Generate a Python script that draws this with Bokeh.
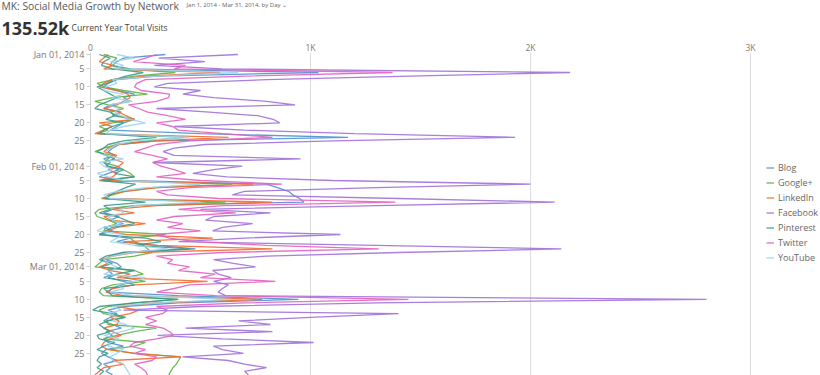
import pandas as pd
from bokeh.plotting import figure
from bokeh.layouts import column
from bokeh.models import Range1d, FixedTicker, Legend, LegendItem, Label
from bokeh.embed import file_html
from bokeh.resources import INLINE

# ---------------- data ----------------
dates = pd.date_range("2014-01-01", "2014-03-31", freq="D")

networks = ["Blog", "Google+", "LinkedIn", "Facebook", "Pinterest", "Twitter", "YouTube"]

blog = [340, 150, 120, 100, 180, 1036, 300, 120, 80, 60,
        120, 200, 150, 180, 90, 60, 140, 100, 200, 150,
        120, 90, 500, 1170, 300, 130, 100, 80, 110, 60,
        90, 70, 130, 80, 40, 150, 800, 850, 900, 920,
        950, 970, 200, 100, 60, 130, 90, 150, 60, 100,
        40, 180, 120, 300, 477, 150, 90, 70, 120, 140,
        80, 100, 60, 190, 140, 100, 80, 400, 945, 400,
        150, 80, 120, 90, 60, 100, 140, 70, 100, 60,
        80, 150, 70, 50, 80, 120, 60, 90, 70, 100]

google_plus = [60, 120, 100, 90, 150, 386, 200, 100, 30, 60,
               150, 259, 100, 20, 80, 150, 90, 120, 200, 100,
               40, 80, 30, 430, 250, 120, 60, 20, 100, 80,
               60, 120, 150, 180, 200, 60, 645, 300, 160, 100,
               50, 614, 200, 40, 20, 30, 80, 120, 70, 60,
               341, 180, 200, 240, 260, 280, 200, 60, 40, 20,
               200, 240, 150, 250, 100, 50, 40, 60, 395, 200,
               80, 40, 60, 150, 70, 80, 300, 200, 120, 60,
               250, 200, 90, 200, 410, 400, 390, 375, 365, 355]

linkedin = [80, 60, 40, 100, 60, 590, 250, 100, 60, 40,
            120, 170, 180, 150, 120, 60, 130, 160, 200, 40,
            100, 60, 20, 627, 300, 120, 80, 60, 120, 100,
            150, 130, 80, 120, 100, 40, 740, 300, 150, 80,
            60, 827, 300, 100, 200, 60, 90, 250, 120, 80,
            160, 555, 150, 300, 827, 200, 100, 50, 80, 40,
            90, 180, 120, 532, 200, 100, 70, 150, 780, 300,
            120, 220, 180, 90, 130, 120, 60, 100, 140, 90,
            60, 50, 80, 200, 410, 100, 150, 60, 40, 20]

facebook = [670, 310, 520, 290, 600, 2180, 1450, 800, 350, 290,
            500, 420, 560, 800, 930, 300, 540, 760, 830, 860,
            380, 700, 1200, 1930, 1100, 520, 380, 330, 380, 955,
            287, 690, 560, 465, 620, 1100, 2000, 1300, 700, 645,
            1400, 2110, 1300, 500, 818, 560, 523, 737, 600, 555,
            1136, 700, 400, 1300, 2140, 1400, 800, 560, 650, 750,
            555, 582, 640, 560, 627, 600, 580, 614, 2800, 1300,
            500, 150, 1400, 1000, 673, 818, 432, 827, 305, 600,
            1014, 559, 600, 695, 418, 627, 700, 800, 700, 718]

pinterest = [40, 90, 60, 50, 100, 240, 160, 110, 77, 30,
             60, 90, 120, 80, 40, 20, 90, 110, 70, 150,
             100, 60, 40, 300, 150, 80, 60, 30, 70, 110,
             60, 80, 150, 110, 200, 50, 205, 160, 120, 90,
             68, 250, 60, 90, 40, 120, 160, 200, 100, 70,
             40, 250, 320, 200, 450, 150, 70, 40, 100, 50,
             200, 120, 80, 150, 200, 60, 80, 100, 400, 200,
             40, 10, 100, 160, 80, 40, 60, 90, 30, 40,
             110, 60, 30, 80, 40, 30, 50, 30, 60, 40]

twitter = [300, 250, 195, 432, 380, 1373, 700, 250, 210, 200,
           230, 360, 355, 300, 173, 220, 260, 350, 432, 300,
           373, 400, 600, 827, 450, 300, 250, 200, 280, 350,
           282, 320, 380, 432, 300, 500, 870, 450, 300, 350,
           582, 1386, 600, 400, 660, 380, 300, 420, 350, 500,
           300, 360, 477, 800, 1310, 600, 300, 373, 350, 450,
           400, 568, 500, 840, 450, 380, 300, 568, 1445, 700,
           300, 350, 327, 250, 300, 250, 330, 360, 377, 300,
           200, 180, 250, 200, 300, 280, 200, 230, 250, 259]

youtube = [120, 200, 90, 150, 110, 670, 300, 100, 120, 70,
           60, 150, 100, 190, 80, 130, 110, 140, 180, 250,
           150, 90, 70, 450, 200, 120, 90, 70, 60, 150,
           40, 60, 100, 30, 80, 150, 500, 250, 120, 60,
           90, 500, 200, 130, 150, 80, 100, 140, 60, 30,
           150, 120, 90, 200, 350, 180, 100, 60, 80, 120,
           100, 60, 250, 200, 120, 150, 90, 200, 645, 300,
           100, 140, 80, 120, 100, 160, 200, 140, 60, 130,
           90, 80, 150, 120, 90, 100, 150, 160, 170, 180]

colors = ["#4e91cf", "#5fb142", "#f26a2e", "#a070d9", "#3a9a8c", "#e45fc0", "#9ed3f0"]

x_ticks = [0, 1000, 2000, 3000]
x_tick_labels = ["0", "1K", "2K", "3K"]

y_tick_dates = ["2014-01-01", "2014-01-05", "2014-01-10", "2014-01-15", "2014-01-20", "2014-01-25",
                "2014-02-01", "2014-02-05", "2014-02-10", "2014-02-15", "2014-02-20", "2014-02-25",
                "2014-03-01", "2014-03-05", "2014-03-10", "2014-03-15", "2014-03-20", "2014-03-25"]
y_tick_labels = ["Jan 01, 2014", "5", "10", "15", "20", "25",
                 "Feb 01, 2014", "5", "10", "15", "20", "25",
                 "Mar 01, 2014", "5", "10", "15", "20", "25"]

title_text = "MK: Social Media Growth by Network"
subtitle_text = "Jan 1, 2014 - Mar 31, 2014, by Day \u2304"
total_text = "135.52k"
total_caption = "Current Year Total Visits"

# ---------------- layout constants ----------------
FONT = "Open Sans"
W = 820
HEADER_H = 38
MAIN_H = 375 - HEADER_H
LEFT, TOP = 90, 14
frame_w = W - LEFT
frame_h = MAIN_H - TOP
px_per_unit = 0.22
px_per_day = 3.6
first_day_offset = 2  # px between frame top and Jan 1

day_index = [(d - dates[0]).days for d in dates]
tick_days = [(pd.Timestamp(d) - dates[0]).days for d in y_tick_dates]

# ---------------- header ----------------
header = figure(width=W, height=HEADER_H, output_backend="svg", toolbar_location=None,
                x_range=Range1d(0, W), y_range=Range1d(HEADER_H, 0),
                x_axis_type=None, y_axis_type=None,
                min_border=0, min_border_left=0, min_border_right=0,
                min_border_top=0, min_border_bottom=0)
header.outline_line_color = None
header.grid.visible = False
header.add_layout(Label(x=1, y=5.5, text=title_text, text_font=FONT, text_font_size="10.3px",
                        text_color="#5a5a5a", text_baseline="alphabetic"))
header.add_layout(Label(x=186, y=4.5, text=subtitle_text, text_font=FONT, text_font_size="6px",
                        text_color="#666666", text_baseline="alphabetic"))
header.add_layout(Label(x=1, y=27, text=total_text, text_font=FONT, text_font_size="18px",
                        text_font_style="bold", text_color="#333333", text_baseline="alphabetic"))
header.add_layout(Label(x=71, y=27, text=total_caption, text_font=FONT, text_font_size="8.6px",
                        text_color="#444444", text_baseline="alphabetic"))

# ---------------- main plot ----------------
y_top = -first_day_offset / px_per_day
y_bottom = y_top + frame_h / px_per_day

p = figure(width=W, height=MAIN_H, output_backend="svg", toolbar_location=None,
           x_axis_location="above",
           x_range=Range1d(0, frame_w / px_per_unit),
           y_range=Range1d(y_bottom, y_top),
           min_border_left=LEFT, min_border_top=TOP, min_border_bottom=0, min_border_right=0)
p.outline_line_color = None

# keep each figure's own frame (no cross-figure frame alignment)
for fig in (header, p):
    try:
        fig.frame_align = False
    except AttributeError:
        pass

xa = p.xaxis[0]
xa.ticker = FixedTicker(ticks=x_ticks)
xa.major_label_overrides = {t: l for t, l in zip(x_ticks, x_tick_labels)}
xa.axis_line_color = None
xa.major_tick_line_color = None
xa.major_tick_out = 0
xa.major_tick_in = 0
xa.minor_tick_line_color = None
xa.minor_tick_out = 0
xa.major_label_text_font = FONT
xa.major_label_text_font_size = "8.5px"
xa.major_label_text_color = "#777777"
xa.major_label_standoff = 0

ya = p.yaxis[0]
ya.ticker = FixedTicker(ticks=tick_days)
ya.major_label_overrides = {t: l for t, l in zip(tick_days, y_tick_labels)}
ya.axis_line_color = "#d0d0d0"
ya.major_tick_line_color = "#d0d0d0"
ya.major_tick_out = 4
ya.major_tick_in = 0
ya.minor_tick_line_color = None
ya.major_label_text_font = FONT
ya.major_label_text_font_size = "9px"
ya.major_label_text_color = "#777777"
ya.major_label_standoff = 2

p.xgrid.ticker = FixedTicker(ticks=x_ticks[1:])
p.xgrid.grid_line_color = "#dddddd"
p.ygrid.grid_line_color = None

series_values = [blog, google_plus, linkedin, facebook, pinterest, twitter, youtube]
items = []
for name, vals, col in zip(networks, series_values, colors):
    r = p.line(x=vals, y=day_index, line_color=col, line_width=1.3, line_alpha=0.9)
    items.append(LegendItem(label=name, renderers=[r]))

legend = Legend(items=items, location=(676, 111), orientation="vertical",
                glyph_width=8, glyph_height=13, label_height=13, spacing=2,
                label_standoff=4, padding=0, margin=0,
                label_text_font=FONT, label_text_font_size="9px", label_text_color="#666666",
                border_line_color=None, background_fill_alpha=0)
p.add_layout(legend, "center")

layout = column(header, p, spacing=0)
open("out.html", "w").write(file_html(layout, INLINE))
